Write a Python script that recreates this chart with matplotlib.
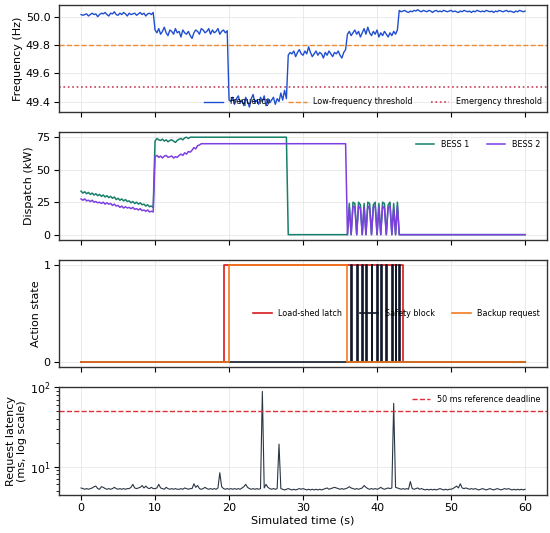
"""
Microgrid frequency-response run: frequency, BESS dispatch, controller actions, latency.

Run: python plot.py
"""

import numpy as np
import matplotlib

matplotlib.use("Agg")
import matplotlib.pyplot as plt

FIG_PATH = "out.png"

# sample grid of the run (0.25 s steps, 0 .. 60 s)
time_s = np.arange(241) * 0.25

# grid frequency (Hz), split by operating segment
freq_0_10 = [50.02, 50.015, 50.02, 50.025, 50.01, 50.02, 50.03, 50.02, 50.025, 50.005,
             50.02, 50.03, 50.025, 50.035, 50.02, 50.01, 50.03, 50.025, 50.04, 50.02,
             50.015, 50.03, 50.02, 50.035, 50.025, 50.01, 50.03, 50.02, 50.025, 50.03,
             50.015, 50.025, 50.035, 50.02, 50.03, 50.01, 50.025, 50.03, 50.02, 50.035]
freq_10_20 = [49.91, 49.89, 49.92, 49.88, 49.90, 49.93, 49.89, 49.87, 49.91, 49.90,
              49.88, 49.92, 49.89, 49.90, 49.86, 49.91, 49.89, 49.88, 49.90, 49.87,
              49.85, 49.89, 49.91, 49.90, 49.88, 49.92, 49.91, 49.89, 49.90, 49.92,
              49.88, 49.91, 49.89, 49.90, 49.92, 49.88, 49.90, 49.91, 49.89, 49.905]
freq_20_28 = [49.41, 49.40, 49.43, 49.38, 49.42, 49.44, 49.39, 49.41, 49.37, 49.43,
              49.40, 49.36, 49.42, 49.45, 49.39, 49.41, 49.38, 49.43, 49.40, 49.44,
              49.37, 49.42, 49.39, 49.41, 49.43, 49.38, 49.42, 49.40, 49.46, 49.41,
              49.48, 49.42]
freq_28_36 = [49.73, 49.75, 49.74, 49.76, 49.72, 49.75, 49.77, 49.74, 49.73, 49.76,
              49.74, 49.79, 49.75, 49.72, 49.74, 49.76, 49.73, 49.75, 49.74, 49.71,
              49.75, 49.73, 49.76, 49.74, 49.72, 49.75, 49.74, 49.76, 49.73, 49.71,
              49.75, 49.77]
freq_36_43 = [49.88, 49.90, 49.87, 49.89, 49.91, 49.88, 49.90, 49.86, 49.89, 49.92,
              49.88, 49.93, 49.89, 49.87, 49.90, 49.88, 49.91, 49.86, 49.89, 49.87,
              49.90, 49.88, 49.86, 49.89, 49.87, 49.90, 49.88, 49.91]
freq_43_60 = [50.05, 50.04, 50.045, 50.05, 50.04, 50.035, 50.045, 50.04, 50.05, 50.045,
              50.055, 50.045, 50.04, 50.05, 50.045, 50.04, 50.05, 50.045, 50.035, 50.045,
              50.05, 50.04, 50.045, 50.04, 50.05, 50.045, 50.04, 50.045, 50.05, 50.04,
              50.045, 50.04, 50.035, 50.045, 50.04, 50.05, 50.045, 50.04, 50.045, 50.035,
              50.045, 50.04, 50.05, 50.045, 50.04, 50.045, 50.04, 50.05, 50.045, 50.04,
              50.045, 50.035, 50.045, 50.04, 50.05, 50.045, 50.04, 50.045, 50.05, 50.04,
              50.045, 50.04, 50.035, 50.045, 50.04, 50.05, 50.045, 50.04, 50.045]

LOW_FREQ_THRESHOLD = 49.8
EMERGENCY_THRESHOLD = 49.5

# BESS dispatch (kW)
bess1_0_10 = [33.5, 32, 33, 31.5, 32.5, 31, 32, 30.5, 31.5, 30,
              31, 29.5, 30.5, 29, 30, 28.5, 29.5, 28, 29, 27,
              28, 26.5, 27.5, 26, 27, 25.5, 26, 24.5, 25.5, 24,
              25, 23.5, 24.5, 23, 23.5, 22, 23, 21.5, 22, 21]
bess1_10_15 = [72, 74, 73, 72.5, 73.5, 72, 73, 71.5, 72.5, 73,
               72, 71, 72.5, 73.5, 74, 73, 74.5, 75, 74, 75]
bess1_15_28 = [75.0] * 52
bess1_28_36 = [0.0] * 32
bess1_36_43 = [0, 24, 0, 25, 24, 0, 25, 23, 0, 24, 0, 25, 24, 0, 23,
               25, 0, 24, 0, 25, 24, 0, 23, 25, 0, 24, 0, 25, 0, 0]
bess1_43_60 = [0.0] * 67

bess2_0_10 = [27.5, 26.5, 27.5, 26, 26.5, 25.5, 26.5, 25, 25.5, 24.5,
              25, 24, 25, 23.5, 24.5, 23.5, 24, 22.5, 23.5, 22,
              22.5, 21, 22, 20.5, 21.5, 20.5, 21, 20, 21, 19.5,
              20, 19, 20, 18.5, 19, 18, 19, 17.5, 18, 17.5]
bess2_10_16 = [60, 61, 59.5, 60.5, 59, 60.5, 61, 59.5, 60, 60.5,
               59, 60, 59.5, 61, 62, 61, 63, 62, 64, 63.5,
               65, 67, 66, 68.5, 69, 70]
bess2_16_36 = [70.0] * 78
bess2_36_43 = [0, 21, 0, 22, 21, 0, 22, 20, 0, 21, 0, 22, 20, 0, 21,
               22, 0, 21, 0, 22, 20, 0, 21, 22, 0, 20, 0, 22, 0, 0]
bess2_43_60 = [0.0] * 67

# controller actions (0/1)
load_shed_latch = [0] * 77 + [1] * 97 + [0] * 67
backup_request = [0] * 80 + [1] * 64 + [0] * 97
# safety block: short pulses starting at these times (s)
safety_pulse_starts = [36.5, 37.25, 38.0, 38.5, 39.25, 40.0, 40.5, 41.25, 42.0, 42.5, 43.0]
SAFETY_PULSE_S = 0.12

# request latency (ms)
latency_0_10 = [5.4, 5.3, 5.2, 5.3, 5.2, 5.3, 5.4, 5.6, 5.7, 5.3,
                5.2, 5.6, 5.5, 5.3, 5.2, 5.3, 5.2, 5.3, 5.5, 5.3,
                5.2, 5.3, 5.2, 5.3, 5.2, 5.3, 5.3, 5.5, 6.0, 5.4,
                5.3, 5.4, 5.5, 5.8, 5.4, 5.7, 5.4, 5.3, 5.5, 5.3]
latency_10_20 = [5.3, 5.4, 6.0, 5.4, 5.3, 5.2, 5.5, 5.3, 5.2, 5.3,
                 5.2, 5.3, 5.2, 5.2, 5.3, 5.2, 5.4, 5.3, 5.2, 5.3,
                 5.3, 6.1, 5.5, 5.8, 5.3, 5.2, 5.3, 5.5, 5.3, 5.2,
                 5.3, 5.2, 5.3, 5.2, 5.4, 8.4, 5.6, 5.3, 5.2, 5.3]
latency_20_30 = [5.2, 5.3, 5.2, 5.3, 5.2, 5.3, 5.2, 5.4, 5.6, 6.0,
                 5.5, 5.3, 5.2, 5.3, 5.2, 5.3, 5.2, 5.3, 89.0, 5.4,
                 6.0, 5.5, 5.3, 5.2, 5.3, 5.2, 5.3, 19.3, 5.3, 5.2,
                 5.1, 5.2, 5.3, 5.2, 5.1, 5.2, 5.1, 5.2, 5.3, 5.2]
latency_30_40 = [5.3, 5.2, 5.1, 5.2, 5.1, 5.2, 5.1, 5.2, 5.1, 5.2,
                 5.1, 5.2, 5.3, 5.4, 5.2, 5.3, 5.4, 5.5, 5.4, 5.3,
                 5.2, 5.3, 5.2, 5.3, 5.4, 5.6, 5.4, 5.3, 5.2, 5.3,
                 5.2, 5.3, 5.4, 5.8, 5.5, 5.3, 5.2, 5.3, 5.2, 5.3]
latency_40_50 = [5.2, 5.3, 5.5, 5.3, 5.2, 5.3, 5.4, 5.3, 5.4, 63.0,
                 5.5, 5.4, 5.3, 5.2, 5.3, 5.2, 5.3, 5.2, 6.5, 5.3,
                 5.2, 5.3, 5.4, 5.2, 5.3, 5.2, 5.1, 5.2, 5.1, 5.2,
                 5.1, 5.2, 5.1, 5.2, 5.3, 5.2, 5.1, 5.2, 5.1, 5.2]
latency_50_60 = [5.2, 5.3, 5.5, 5.7, 5.4, 6.1, 5.4, 5.3, 5.4, 5.3,
                 5.2, 5.3, 5.2, 5.3, 5.2, 5.1, 5.2, 5.3, 5.2, 5.1,
                 5.2, 5.3, 5.2, 5.1, 5.2, 5.3, 5.2, 5.1, 5.2, 5.3,
                 5.2, 5.3, 5.2, 5.1, 5.2, 5.1, 5.2, 5.1, 5.2, 5.1, 5.2]

DEADLINE_MS = 50


def main() -> None:
    frequency = freq_0_10 + freq_10_20 + freq_20_28 + freq_28_36 + freq_36_43 + freq_43_60
    bess1 = bess1_0_10 + bess1_10_15 + bess1_15_28 + bess1_28_36 + bess1_36_43 + bess1_43_60
    bess2 = bess2_0_10 + bess2_10_16 + bess2_16_36 + bess2_36_43 + bess2_43_60
    latency = (latency_0_10 + latency_10_20 + latency_20_30
               + latency_30_40 + latency_40_50 + latency_50_60)

    # safety block as an event series (rise / fall per pulse)
    sb_time, sb_state = [0.0], [0]
    for start in safety_pulse_starts:
        sb_time += [start, start + SAFETY_PULSE_S]
        sb_state += [1, 0]
    sb_time.append(time_s[-1])
    sb_state.append(0)

    plt.rcParams.update({
        "font.size": 8,
        "axes.edgecolor": "#333333",
        "axes.linewidth": 1.0,
        "axes.labelpad": 2.0,
        "xtick.labelsize": 8.0,
        "ytick.labelsize": 8.0,
        "xtick.major.pad": 2.5,
        "ytick.major.pad": 2.5,
    })

    fig, axes = plt.subplots(4, 1, figsize=(5.5, 5.33), sharex=True)
    fig.subplots_adjust(left=0.107, right=0.995, top=0.991, bottom=0.072, hspace=0.19)
    ax_f, ax_d, ax_a, ax_l = axes

    leg_kw = dict(frameon=False, fontsize=5.8, handlelength=2.3, columnspacing=2.2)

    # frequency
    ax_f.plot(time_s, frequency, color="#1f4fd0", lw=1.0, label="Frequency")
    ax_f.axhline(LOW_FREQ_THRESHOLD, color="#ee8a2f", ls="--", lw=1.0,
                 label="Low-frequency threshold")
    ax_f.axhline(EMERGENCY_THRESHOLD, color="#c8405a", ls=":", lw=1.2,
                 label="Emergency threshold")
    ax_f.set_ylabel("Frequency (Hz)")
    ax_f.legend(loc="lower right", ncol=3, borderaxespad=0.3, **leg_kw)

    # battery dispatch
    ax_d.plot(time_s, bess1, color="#17806a", lw=1.1, label="BESS 1")
    ax_d.plot(time_s, bess2, color="#7d3fe0", lw=1.1, label="BESS 2")
    ax_d.set_ylabel("Dispatch (kW)")
    ax_d.set_yticks([0, 25, 50, 75])
    ax_d.legend(loc="upper right", ncol=2, **leg_kw)

    # controller actions
    ax_a.step(time_s, load_shed_latch, where="post", color="#d7191c", lw=1.2,
              label="Load-shed latch")
    ax_a.step(sb_time, sb_state, where="post", color="#111827", lw=1.2,
              label="Safety block")
    ax_a.step(time_s, backup_request, where="post", color="#f47a1f", lw=1.2,
              label="Backup request")
    ax_a.set_ylabel("Action state")
    ax_a.set_yticks([0, 1])
    ax_a.legend(loc="center right", ncol=3, **leg_kw)

    # latency
    ax_l.plot(time_s, latency, color="#2b3645", lw=0.8)
    ax_l.axhline(DEADLINE_MS, color="#e0303a", ls="--", lw=1.0,
                 label="50 ms reference deadline")
    ax_l.set_yscale("log")
    ax_l.set_ylim(4.45, 100)
    ax_l.set_ylabel("Request latency\n(ms, log scale)")
    ax_l.set_xlabel("Simulated time (s)")
    ax_l.legend(loc="upper right", **leg_kw)

    ax_l.set_xticks(range(0, 61, 10))
    for ax in axes:
        ax.grid(True, color="#dddddd", lw=0.6, alpha=0.7)
        ax.set_axisbelow(True)

    fig.savefig(FIG_PATH, dpi=100)
    plt.close(fig)
    print(f"Saved figure to {FIG_PATH}")


if __name__ == "__main__":
    main()
